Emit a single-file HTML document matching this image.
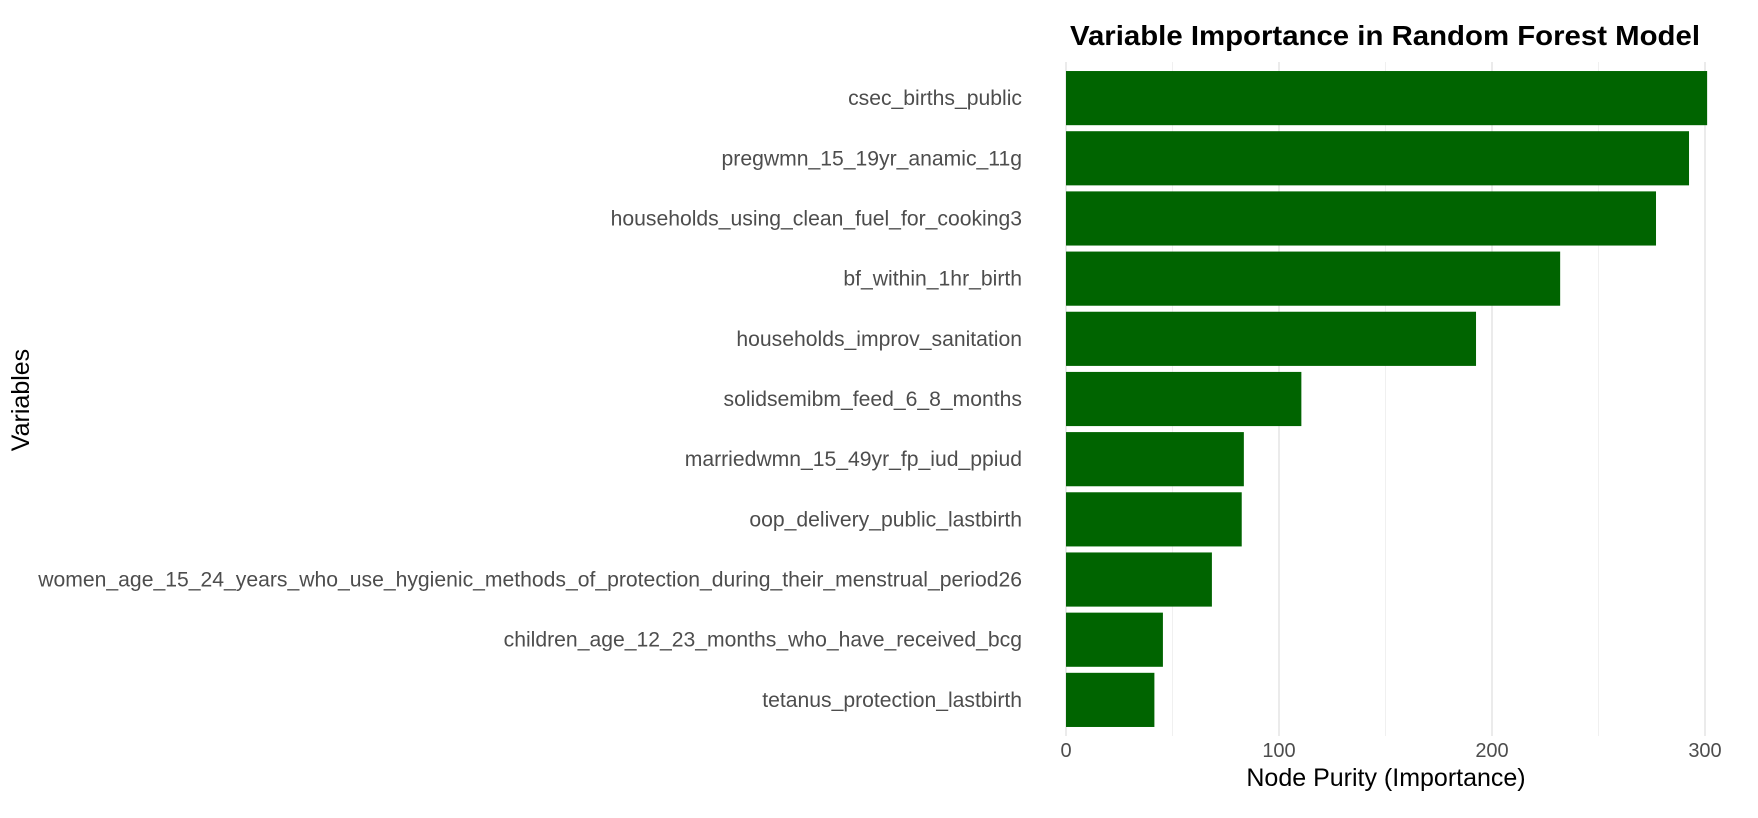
<!DOCTYPE html>
<html><head><meta charset="utf-8"><style>
html,body{margin:0;padding:0;background:#fff}
svg{display:block;font-family:"Liberation Sans",Arial,sans-serif}
</style></head><body>
<svg id="chart" width="1758" height="818" viewBox="0 0 1758 818">
<rect width="1758" height="818" fill="#fff"/>
<g id="grid"></g><g id="bars"></g><g id="ylabels"></g><g id="xticks"></g>
<text x="1070" y="45" font-size="28" font-weight="bold" fill="#000" textLength="630" lengthAdjust="spacingAndGlyphs">Variable Importance in Random Forest Model</text>
<text x="1386" y="786" font-size="25" text-anchor="middle" fill="#000">Node Purity (Importance)</text>
<text transform="translate(29,400) rotate(-90)" font-size="25" text-anchor="middle" fill="#000">Variables</text>
</svg>
<script>
const categories = ["csec_births_public","pregwmn_15_19yr_anamic_11g","households_using_clean_fuel_for_cooking3","bf_within_1hr_birth","households_improv_sanitation","solidsemibm_feed_6_8_months","marriedwmn_15_49yr_fp_iud_ppiud","oop_delivery_public_lastbirth","women_age_15_24_years_who_use_hygienic_methods_of_protection_during_their_menstrual_period26","children_age_12_23_months_who_have_received_bcg","tetanus_protection_lastbirth"];
const values = [301, 292.5, 277, 232, 192.5, 110.5, 83.5, 82.5, 68.5, 45.5, 41.5];
const majorTicks = [0, 100, 200, 300];
const minorTicks = [50, 150, 250];
const NS = "http://www.w3.org/2000/svg";
const x0 = 1066, x1 = 1705, yTop = 62, yBottom = 736;
const xs = v => x0 + (v / 300) * (x1 - x0);
const band = (yBottom - yTop) / (categories.length + 0.2);
const yc = i => yTop + 0.6 * band + i * band;
function mk(tag, attrs, parent){const e=document.createElementNS(NS,tag);for(const k in attrs)e.setAttribute(k,attrs[k]);parent.appendChild(e);return e;}
const grid=document.getElementById('grid'),bars=document.getElementById('bars'),yl=document.getElementById('ylabels'),xt=document.getElementById('xticks');
minorTicks.forEach(t=>{const l=mk('line',{x1:xs(t),x2:xs(t),y1:yTop,y2:yBottom,stroke:'#f0f0f0','stroke-width':1},grid);

});
majorTicks.forEach(t=>{const l=mk('line',{x1:xs(t),x2:xs(t),y1:yTop,y2:yBottom,stroke:'#e6e6e6','stroke-width':1.6},grid);


const tx=mk('text',{x:xs(t),y:757,'font-size':20,'text-anchor':'middle',fill:'#4d4d4d'},xt);tx.textContent=t;

});
categories.forEach((c,i)=>{const h=band*0.9;
const r=mk('rect',{x:xs(0),y:yc(i)-h/2,width:xs(values[i])-xs(0),height:h,fill:'#006400'},bars);


const t=mk('text',{x:1022,y:yc(i)+7,'font-size':21.15,'text-anchor':'end',fill:'#4d4d4d'},yl);t.textContent=c;

});
</script>
</body></html>
